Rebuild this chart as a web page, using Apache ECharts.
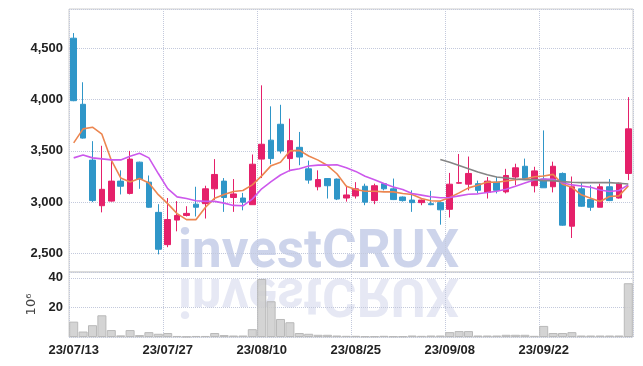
<!DOCTYPE html>
<html>
<head>
<meta charset="utf-8">
<script src="https://cdn.jsdelivr.net/npm/echarts@6/dist/echarts.min.js"></script>
<style>
html, body { margin: 0; padding: 0; background: #fff; }
#chart { width: 643px; height: 366px; }
</style>
</head>
<body>
<div id="chart"></div>
<script>
// 日付
var dates = ['23/07/13','23/07/14','23/07/17','23/07/18','23/07/19','23/07/20','23/07/21','23/07/24','23/07/25','23/07/26',
    '23/07/27','23/07/28','23/07/31','23/08/01','23/08/02','23/08/03','23/08/04','23/08/07','23/08/08','23/08/09',
    '23/08/10','23/08/11','23/08/14','23/08/16','23/08/17','23/08/18','23/08/21','23/08/22','23/08/23','23/08/24',
    '23/08/25','23/08/28','23/08/29','23/08/30','23/08/31','23/09/01','23/09/04','23/09/05','23/09/06','23/09/07',
    '23/09/08','23/09/11','23/09/12','23/09/13','23/09/14','23/09/15','23/09/18','23/09/19','23/09/20','23/09/21',
    '23/09/22','23/09/25','23/09/26','23/09/27','23/10/04','23/10/05','23/10/06','23/10/10','23/10/11','23/10/12'];

var opens  = [4600,3955,3410,2965,3010,3205,3085,3390,3195,2900, 2585,2825,2870,2980,2985,3130,3205,3045,3040,2975,
              3420,3605,3760,3425,3535,3325,3150,3230,3225,3040, 3060,3155,3015,3180,3130,3050,3020,2995,2985,2995,
              2930,3185,3175,3180,3095,3195,3100,3245,3350,3160, 3225,3150,3280,2765,3130,3025,2950,3150,3040,3280];
var closes = [3990,3625,3015,3125,3205,3155,3420,3225,2950,2540, 2830,2870,2890,2950,3130,3270,3045,3080,3000,3370,
              3565,3425,3500,3600,3440,3215,3220,3160,3030,3070, 3130,3000,3160,3130,3025,3015,2995,3020,2975,2925,
              3175,3190,3280,3115,3205,3115,3260,3335,3230,3305, 3140,3350,2775,3150,2960,2950,3150,3015,3185,3715];
var lows   = [3985,3620,3000,2900,3005,3075,3075,3130,2945,2490, 2560,2715,2860,2860,2840,3020,2905,2905,2920,2975,
              3235,3370,3475,3300,3360,3180,3115,3035,3020,3005, 3035,2970,2980,3115,3020,3005,2905,2970,2970,2780,
              2850,3180,3115,3085,3035,3085,3085,3165,3225,3095, 3140,3095,2770,2650,2955,2915,2950,3010,3035,3215];
var highs  = [4650,4170,3595,3550,3400,3310,3500,3395,3260,2980, 3040,3010,2960,3150,3160,3420,3235,3225,3090,3465,
              4140,3935,3950,3815,3685,3405,3310,3235,3230,3160, 3195,3180,3180,3185,3230,3055,3115,3025,3110,3010,
              3285,3470,3445,3210,3245,3245,3325,3375,3425,3345, 3700,3395,3290,3250,3185,3165,3180,3225,3190,4025];

// 거래량 (10^6)
var volumes = [10.4,3.7,8,14.7,4.7,1.1,4.7,1.3,3.3,2.2, 2.7,0.7,0.3,0.7,0.7,2.7,1.3,1,1,5.3,
               39.3,24.2,12.2,10,2.7,2.2,1.5,1.5,1,0.8, 0.8,0.5,0.5,0.8,0.5,0.5,1,0.8,1,1,
               3.3,4,4,1,1,1,1.5,1.5,1.5,0.8, 7.5,2.7,2.7,3.3,1,1,1,1,1,36.4];

// 이동평균선
var ma5  = [3578,3715,3731,3663,3409,3236,3197,3230,3187,3073, 2985,2888,2829,2829,2948,3039,3074,3104,3113,3168,
            3256,3356,3390,3500,3505,3450,3410,3357,3277,3155, 3123,3106,3106,3100,3100,3084,3074,3035,3013,3010,
            3045,3090,3139,3165,3197,3194,3206,3219,3226,3248, 3255,3271,3174,3145,3071,3039,3006,3055,3061,3158];
var ma20 = [3432,3461,3432,3422,3412,3412,3448,3477,3432,3279, 3132,3051,3036,3013,3007,3007,2990,2968,2964,3029,
            3130,3201,3265,3310,3326,3352,3361,3361,3365,3335, 3300,3252,3219,3181,3148,3123,3084,3068,3052,3042,
            3045,3061,3077,3081,3094,3106,3126,3155,3186,3216, 3226,3223,3190,3168,3158,3145,3119,3103,3113,3168];
var ma60 = ['-','-','-','-','-','-','-','-','-','-', '-','-','-','-','-','-','-','-','-','-',
            '-','-','-','-','-','-','-','-','-','-', '-','-','-','-','-','-','-','-','-',3416,
            3390,3358,3326,3294,3268,3245,3235,3225,3220,3220, 3210,3210,3200,3194,3190,3190,3190,3190,3184,3177];

var candleData = [];
for (var i = 0; i < dates.length; i++) {
    candleData.push([opens[i], closes[i], lows[i], highs[i]]);
}

var labelFont = "'Liberation Sans', Arial, sans-serif";
var gridDot = { show: true, interval: 9, lineStyle: { color: '#c3c9dc', type: 'dotted', width: 1 } };

var chart = echarts.init(document.getElementById('chart'));
var option = {
    animation: false,
    backgroundColor: '#fff',
    grid: [
        { left: 69, right: 10, top: 9, height: 263, show: true, borderColor: '#cfcfcf', borderWidth: 1 },
        { left: 69, right: 10, top: 272, height: 65, show: true, borderColor: '#cfcfcf', borderWidth: 1 }
    ],
    graphic: [
        {
            type: 'text', x: 178, y: 254, z: 0, silent: true,
            style: { text: 'investCRUX', font: 'bold 53px Roboto', fill: 'rgba(188,197,228,0.75)', verticalAlign: 'middle' }
        },
        {
            type: 'text', x: 178, y: 273, scaleY: -1, z: 0, silent: true,
            style: { text: 'investCRUX', font: 'bold 53px Roboto', fill: 'rgba(205,210,234,0.5)', verticalAlign: 'middle', y: -19 }
        }
    ],
    xAxis: [
        {
            type: 'category', gridIndex: 0, data: dates, boundaryGap: true,
            axisLine: { show: false }, axisTick: { show: false }, axisLabel: { show: false },
            splitLine: gridDot
        },
        {
            type: 'category', gridIndex: 1, data: dates, boundaryGap: true,
            axisLine: { show: false }, axisTick: { show: false },
            axisLabel: { interval: 9, margin: 7, color: '#222', fontSize: 13, fontWeight: 'bold', fontFamily: labelFont },
            splitLine: gridDot
        }
    ],
    yAxis: [
        {
            type: 'value', gridIndex: 0, min: 2318, max: 4885, scale: true,
            axisLine: { show: false }, axisTick: { show: false },
            axisLabel: { showMinLabel: false, showMaxLabel: false, margin: 6, color: '#222', fontSize: 13, fontWeight: 'bold', fontFamily: labelFont },
            splitLine: { show: true, lineStyle: { color: '#c3c9dc', type: 'dotted' } }
        },
        {
            type: 'value', gridIndex: 1, min: 0, max: 44, interval: 20,
            name: '10\u2076', nameLocation: 'middle', nameRotate: 90, nameGap: 21,
            nameTextStyle: { color: '#444', fontSize: 13, fontFamily: 'DejaVu Sans' },
            axisLine: { show: false }, axisTick: { show: false },
            axisLabel: { showMinLabel: false, showMaxLabel: false, margin: 6, color: '#222', fontSize: 13, fontWeight: 'bold', fontFamily: labelFont },
            splitLine: { show: true, lineStyle: { color: '#c3c9dc', type: 'dotted' } }
        }
    ],
    series: [
        {
            name: 'candle', type: 'candlestick', xAxisIndex: 0, yAxisIndex: 0,
            data: candleData, barWidth: 6, z: 3,
            itemStyle: {
                color: '#e5206a', color0: '#2f96c8',
                borderColor: '#e5206a', borderColor0: '#2f96c8', borderWidth: 1
            }
        },
        {
            name: 'MA5', type: 'line', xAxisIndex: 0, yAxisIndex: 0, data: ma5,
            symbol: 'none', z: 4,
            lineStyle: { color: '#ec8650', width: 1.6 }
        },
        {
            name: 'MA20', type: 'line', xAxisIndex: 0, yAxisIndex: 0, data: ma20,
            symbol: 'none', z: 4,
            lineStyle: { color: '#cc58ec', width: 1.6 }
        },
        {
            name: 'MA60', type: 'line', xAxisIndex: 0, yAxisIndex: 0, data: ma60,
            symbol: 'none', z: 4,
            lineStyle: { color: '#858585', width: 1.6 }
        },
        {
            name: 'volume', type: 'bar', xAxisIndex: 1, yAxisIndex: 1, data: volumes,
            barCategoryGap: '4%', z: 3,
            itemStyle: { color: 'rgba(205,205,205,0.85)', borderColor: '#b9b9b9', borderWidth: 1 }
        }
    ]
};
chart.setOption(option);
</script>
</body>
</html>
